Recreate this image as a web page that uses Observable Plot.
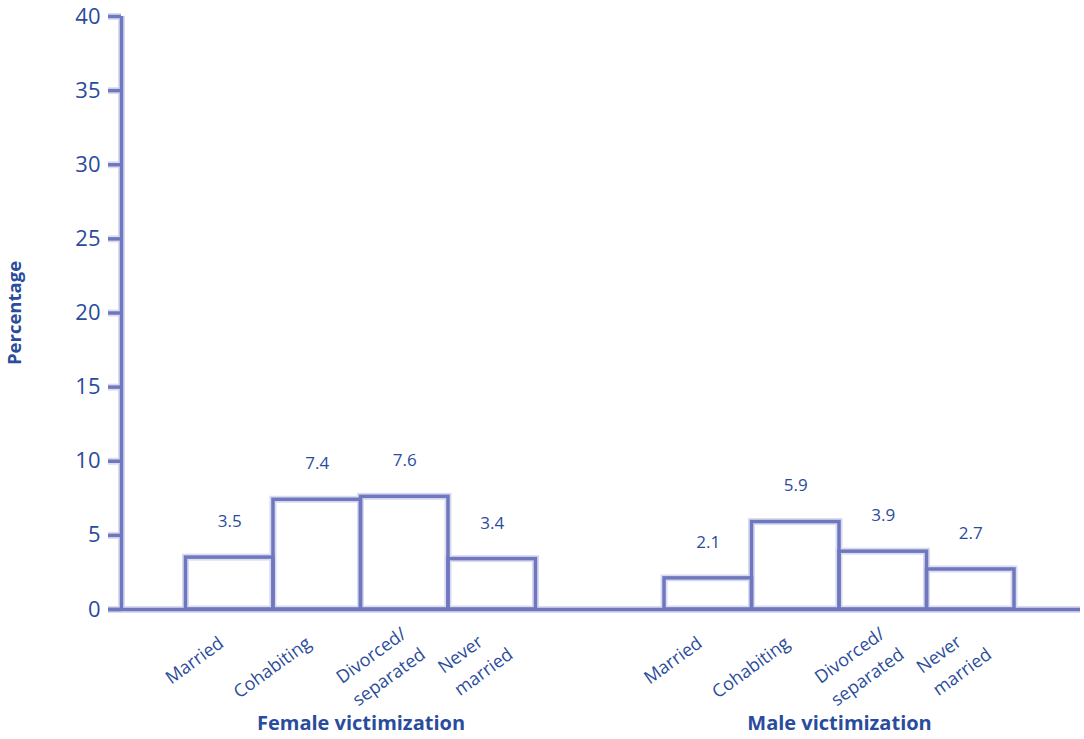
<!DOCTYPE html>
<html>
<head>
<meta charset="utf-8">
<script src="https://cdn.jsdelivr.net/npm/d3@7"></script>
<script src="https://cdn.jsdelivr.net/npm/@observablehq/plot@0.6"></script>
<style>
  html, body { margin: 0; padding: 0; background: #fff; }
  #chart svg { display: block; font-family: "Open Sans", sans-serif; }
</style>
</head>
<body>
<div id="chart"></div>
<script>
// ---- data ----
const categories = ["Married", "Cohabiting", "Divorced/\nseparated", "Never\nmarried"];
const groups = ["Female victimization", "Male victimization"];
const femaleValues = [3.5, 7.4, 7.6, 3.4];
const maleValues = [2.1, 5.9, 3.9, 2.7];
const yTicks = [0, 5, 10, 15, 20, 25, 30, 35, 40];
const yLabel = "Percentage";

// ---- layout (bar-slot units) ----
const groupStart = [0.737, 6.206];
const xMax = 10.96;
const slotPx = 87.5;

const lineColor = "#6f78bf";
const haloColor = "#d9dbf0";
const textColor = "#2a4c9c";

const rows = [];
[femaleValues, maleValues].forEach((vals, g) => {
  vals.forEach((v, i) => rows.push({group: groups[g], category: categories[i], value: v, x1: groupStart[g] + i, x2: groupStart[g] + i + 1}));
});
const groupRows = groups.map((g, k) => ({group: g, center: groupStart[k] + categories.length / 2}));

const svg = Plot.plot({
  width: 1084,
  height: 739,
  marginLeft: 121,
  marginRight: 4,
  marginTop: 16,
  marginBottom: 130,
  style: {fontFamily: "'Open Sans', sans-serif", background: "#fff"},
  x: {domain: [0, xMax], axis: null},
  y: {domain: [0, 40], axis: null},
  marks: [
    // halos
    Plot.rectY(rows, {x1: "x1", x2: "x2", y: "value", fill: "white", stroke: haloColor, strokeWidth: 7}),
    Plot.ruleX([0], {stroke: haloColor, strokeWidth: 7}),
    Plot.ruleY([0], {x1: -13 / slotPx, x2: xMax, stroke: haloColor, strokeWidth: 7}),
    Plot.axisY({ticks: yTicks, tickSize: 13, tickPadding: 8, stroke: haloColor, strokeWidth: 7, tickFormat: () => "", label: null}),
    // main lines
    Plot.rectY(rows, {x1: "x1", x2: "x2", y: "value", fill: "none", stroke: lineColor, strokeWidth: 3.5}),
    Plot.ruleX([0], {stroke: lineColor, strokeWidth: 3.5}),
    Plot.ruleY([0], {x1: -13 / slotPx, x2: xMax, stroke: lineColor, strokeWidth: 3.5}),
    Plot.axisY({ticks: yTicks, tickSize: 13, tickPadding: 8, stroke: lineColor, strokeWidth: 3.5, color: textColor, fontSize: 22, label: null}),
    // value labels
    Plot.text(rows, {x: d => (d.x1 + d.x2) / 2, y: "value", text: d => d.value.toFixed(1), dy: -36, fill: textColor, fontSize: 17}),
    // category labels
    Plot.text(rows, {x: d => (d.x1 + d.x2) / 2, y: 0, text: "category", rotate: -36, textAnchor: "end", lineAnchor: "middle", lineHeight: 1.55, dx: -10, dy: 29, fill: textColor, fontSize: 18}),
    // group titles
    Plot.text(groupRows, {x: "center", y: 0, text: "group", dy: 114, fill: textColor, fontSize: 20, fontWeight: "bold"}),
    // y label
    Plot.text([yLabel], {frameAnchor: "left", text: d => d, rotate: -90, textAnchor: "middle", dx: -106, fill: textColor, fontSize: 18.5, fontWeight: "bold"})
  ]
});
document.getElementById("chart").append(svg);

// multi-line category labels: lines left-aligned, block nudged in its rotated frame
svg.querySelectorAll("text").forEach(t => {
  const spans = t.querySelectorAll("tspan");
  if (spans.length < 2) return;
  let w = 0;
  spans.forEach(s => { w = Math.max(w, s.getComputedTextLength()); });
  t.setAttribute("text-anchor", "start");
  spans.forEach(s => s.setAttribute("x", -w));
  t.setAttribute("transform", (t.getAttribute("transform") || "") + " translate(15,11)");
});
</script>
</body>
</html>
